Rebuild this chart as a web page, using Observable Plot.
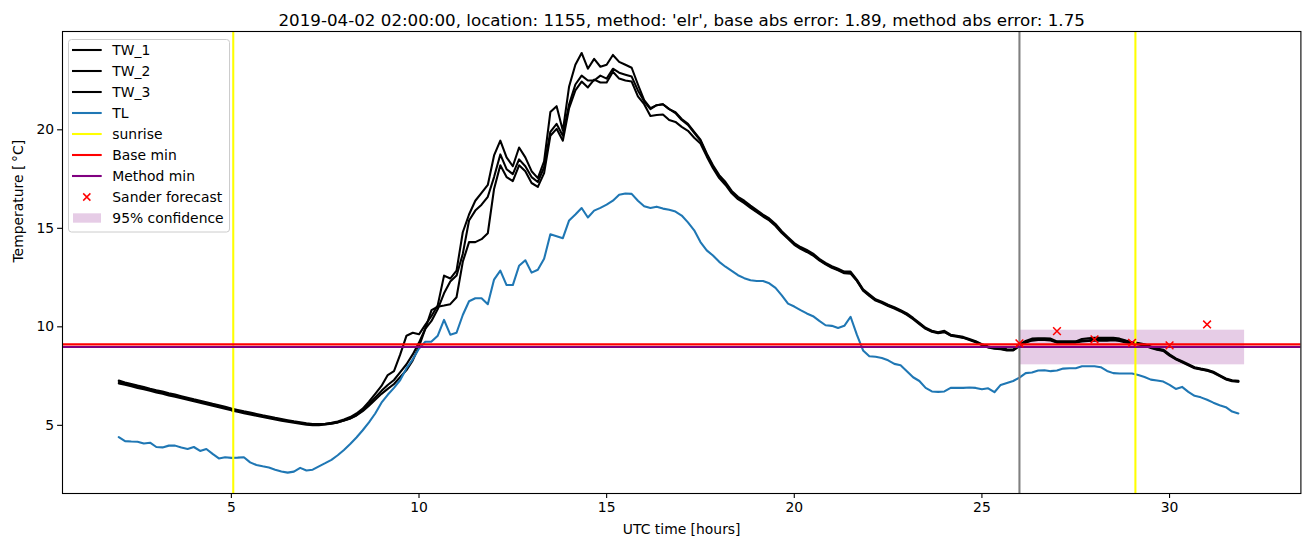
<!DOCTYPE html>
<html><head><meta charset="utf-8">
<script src="https://cdn.jsdelivr.net/npm/d3@7"></script>
<script src="https://cdn.jsdelivr.net/npm/@observablehq/plot@0.6"></script>
<style>body{margin:0;background:#fff;} #chart{width:1310px;height:547px;}</style>
</head><body><div id="chart"></div>
<script>
const title = "2019-04-02 02:00:00, location: 1155, method: 'elr', base abs error: 1.89, method abs error: 1.75";
// 10-minute time grid, 02:00 .. 31:50 UTC hours
const hours = d3.range(180).map(k => 2 + k / 6);

const TW_1 = [
7.27,7.18,7.10,7.02,6.95,6.86,
6.78,6.72,6.63,6.56,6.48,6.40,
6.32,6.25,6.17,6.09,6.02,5.94,
5.85,5.78,5.71,5.65,5.58,5.51,
5.45,5.38,5.32,5.26,5.20,5.15,
5.10,5.07,5.06,5.08,5.13,5.20,
5.30,5.42,5.60,5.85,6.20,6.60,
7.00,7.55,7.75,8.60,9.55,9.70,
9.62,10.10,10.55,11.10,12.60,12.45,
12.85,14.80,15.70,16.40,16.80,17.20,
18.70,19.45,18.60,18.15,19.10,18.60,
17.90,17.55,18.40,20.90,21.20,19.95,
22.20,23.30,23.90,23.10,23.60,23.20,
23.30,23.80,23.45,23.30,23.15,22.30,
21.50,21.10,21.25,21.30,21.05,20.90,
20.55,20.30,19.90,19.50,18.80,18.20,
17.70,17.35,16.90,16.60,16.40,16.15,
15.92,15.70,15.50,15.22,14.85,14.55,
14.25,14.05,13.90,13.72,13.45,13.25,
13.08,12.95,12.80,12.80,12.40,11.90,
11.65,11.40,11.28,11.12,11.00,10.85,
10.68,10.45,10.20,9.95,9.80,9.72,
9.80,9.60,9.55,9.49,9.38,9.27,
9.12,9.00,8.94,8.92,8.86,8.85,
9.10,9.28,9.40,9.42,9.42,9.40,
9.26,9.26,9.26,9.26,9.38,9.42,
9.44,9.44,9.44,9.44,9.40,9.30,
9.22,9.18,9.12,9.00,8.90,8.84,
8.60,8.40,8.25,8.10,7.95,7.88,
7.82,7.72,7.55,7.38,7.29,7.26];

const TW_2 = [
7.20,7.12,7.04,6.96,6.89,6.81,
6.73,6.66,6.58,6.50,6.43,6.35,
6.27,6.20,6.12,6.04,5.97,5.89,
5.80,5.73,5.66,5.60,5.53,5.46,
5.40,5.34,5.28,5.22,5.17,5.12,
5.07,5.05,5.04,5.06,5.10,5.15,
5.25,5.35,5.52,5.78,6.08,6.42,
6.75,7.05,7.30,7.70,8.10,8.60,
9.20,9.90,10.30,10.90,11.70,12.30,
12.60,13.70,15.40,15.90,16.20,16.60,
17.60,18.75,18.00,17.75,18.50,18.15,
17.60,17.35,18.10,19.90,20.30,19.70,
21.30,22.30,22.75,22.50,22.50,22.75,
22.60,23.10,22.90,22.80,22.70,22.00,
21.45,21.05,21.25,21.30,21.05,20.85,
20.50,20.25,19.85,19.45,18.75,18.15,
17.62,17.27,16.84,16.53,16.33,16.08,
15.86,15.63,15.44,15.16,14.80,14.50,
14.20,14.00,13.84,13.66,13.40,13.20,
13.03,12.90,12.75,12.74,12.36,11.86,
11.60,11.36,11.24,11.08,10.96,10.81,
10.64,10.42,10.17,9.92,9.77,9.70,
9.76,9.57,9.52,9.46,9.35,9.24,
9.09,8.97,8.91,8.89,8.83,8.82,
9.05,9.22,9.33,9.36,9.36,9.34,
9.22,9.22,9.22,9.24,9.30,9.32,
9.34,9.34,9.34,9.36,9.32,9.24,
9.18,9.14,9.08,8.96,8.86,8.80,
8.56,8.37,8.22,8.07,7.92,7.85,
7.79,7.69,7.52,7.35,7.26,7.23];

const TW_3 = [
7.13,7.06,6.98,6.90,6.83,6.75,
6.67,6.60,6.52,6.45,6.37,6.30,
6.22,6.15,6.07,5.99,5.92,5.84,
5.76,5.69,5.62,5.55,5.49,5.42,
5.36,5.30,5.24,5.18,5.13,5.08,
5.03,5.01,5.01,5.04,5.08,5.14,
5.24,5.35,5.50,5.72,6.00,6.30,
6.60,6.85,7.10,7.45,7.80,8.30,
9.00,9.90,10.85,11.02,11.08,11.15,
11.50,13.30,14.30,14.30,14.45,14.75,
17.00,18.20,17.60,17.40,18.20,17.90,
17.30,17.10,17.80,19.70,20.05,19.45,
21.10,22.00,22.45,22.15,22.55,22.40,
22.40,22.95,22.60,22.50,22.45,21.70,
21.30,20.70,20.75,20.78,20.50,20.40,
20.15,19.95,19.60,19.30,18.65,18.05,
17.55,17.20,16.78,16.48,16.28,16.04,
15.82,15.60,15.40,15.12,14.76,14.47,
14.16,13.96,13.80,13.62,13.37,13.17,
13.00,12.87,12.72,12.70,12.33,11.83,
11.57,11.33,11.21,11.05,10.93,10.78,
10.61,10.39,10.14,9.90,9.75,9.68,
9.73,9.55,9.50,9.44,9.33,9.22,
9.07,8.95,8.89,8.86,8.80,8.80,
9.02,9.20,9.30,9.33,9.33,9.31,
9.20,9.20,9.20,9.20,9.26,9.28,
9.30,9.30,9.30,9.32,9.28,9.20,
9.15,9.11,9.05,8.93,8.84,8.78,
8.54,8.35,8.20,8.05,7.90,7.83,
7.77,7.67,7.50,7.33,7.24,7.21];

const TL = [
4.40,4.20,4.18,4.17,4.08,4.12,
3.90,3.88,3.97,3.97,3.87,3.80,
3.90,3.70,3.80,3.55,3.32,3.38,
3.35,3.36,3.38,3.12,2.99,2.92,
2.86,2.75,2.66,2.60,2.65,2.84,
2.71,2.75,2.92,3.08,3.25,3.48,
3.75,4.05,4.38,4.75,5.15,5.60,
6.15,6.55,6.90,7.30,7.90,8.35,
8.90,9.24,9.25,9.55,10.35,9.60,
9.70,10.60,11.30,11.45,11.45,11.15,
12.40,12.85,12.12,12.12,13.10,13.38,
12.75,12.90,13.45,14.70,14.60,14.50,
15.40,15.70,16.03,15.55,15.90,16.04,
16.20,16.40,16.70,16.77,16.75,16.40,
16.12,16.03,16.10,16.00,15.94,15.85,
15.65,15.30,14.90,14.30,13.88,13.62,
13.30,13.05,12.84,12.62,12.47,12.36,
12.33,12.33,12.21,11.98,11.60,11.18,
11.03,10.85,10.68,10.54,10.30,10.08,
10.05,9.94,10.05,10.51,9.60,8.80,
8.51,8.48,8.42,8.30,8.12,8.05,
7.75,7.44,7.25,6.90,6.72,6.70,
6.72,6.90,6.90,6.90,6.92,6.90,
6.83,6.88,6.68,7.05,7.15,7.25,
7.42,7.65,7.68,7.78,7.80,7.75,
7.78,7.88,7.90,7.90,8.00,8.00,
8.00,7.95,7.76,7.65,7.63,7.63,
7.63,7.55,7.45,7.32,7.28,7.22,
7.05,6.85,6.95,6.70,6.50,6.42,
6.30,6.15,6.02,5.92,5.70,5.60];

const sunriseHours = [5.05, 29.09];
const forecastStart = [26];
const baseMin = [9.11];
const methodMin = [8.98];
const forecastHours = [26, 27, 28, 29, 30, 31];
const forecastValues = [9.16, 9.78, 9.36, 9.19, 9.06, 10.12];
const confStart = 26, confEnd = 32, confLow = 8.07, confHigh = 9.83;
const xTicks = [5, 10, 15, 20, 25, 30];
const yTicks = [5, 10, 15, 20];
const xLabel = "UTC time [hours]";
const yLabel = "Temperature [\u2009°C]";
const legendLabels = ["TW_1", "TW_2", "TW_3", "TL", "sunrise", "Base min", "Method min", "Sander forecast", "95% confidence"];

const LW = 2.08;
const pairs = vals => vals.map((v, i) => ({t: hours[i], v}));

const chart = Plot.plot({
  width: 1310, height: 547,
  marginLeft: 62, marginRight: 9.6, marginTop: 31, marginBottom: 54,
  style: {fontFamily: "DejaVu Sans, sans-serif", fontSize: "13.9px", background: "white", color: "black"},
  x: {domain: [0.5, 33.5]},
  y: {domain: [1.54, 24.99]},
  marks: [
    Plot.rect([{s: confStart, e: confEnd, lo: confLow, hi: confHigh}], {x1: "s", x2: "e", y1: "lo", y2: "hi", fill: "purple", fillOpacity: 0.2}),
    ...[TW_1, TW_2, TW_3].map(s => Plot.line(pairs(s), {x: "t", y: "v", stroke: "black", strokeWidth: LW})),
    Plot.line(pairs(TL), {x: "t", y: "v", stroke: "#1f77b4", strokeWidth: LW}),
    Plot.ruleX(sunriseHours, {stroke: "yellow", strokeWidth: LW}),
    Plot.ruleX(forecastStart, {stroke: "gray", strokeWidth: LW}),
    Plot.ruleY(baseMin, {stroke: "red", strokeWidth: LW}),
    Plot.ruleY(methodMin, {stroke: "purple", strokeWidth: LW}),
    Plot.dot(forecastValues.map((v, i) => ({t: forecastHours[i], v})), {x: "t", y: "v", symbol: "times", stroke: "red", r: 3.6, strokeWidth: 1.5}),
    Plot.frame({stroke: "black", strokeWidth: 1.1}),
    Plot.axisX({ticks: xTicks, tickSize: 4.9, tickPadding: 3.5, label: null, fontSize: 13.9, strokeWidth: 1.1}),
    Plot.axisY({ticks: yTicks, tickSize: 4.9, tickPadding: 3.5, label: null, fontSize: 13.9, strokeWidth: 1.1}),
    Plot.text([title], {frameAnchor: "top", dy: -17, fontSize: 16.7}),
    Plot.text([xLabel], {frameAnchor: "bottom", dy: 40, fontSize: 13.9}),
    Plot.text([yLabel], {frameAnchor: "left", dx: -44, rotate: -90, fontSize: 13.9})
  ]
});
document.getElementById("chart").appendChild(chart);

// legend (upper left, matplotlib style)
const svg = d3.select(chart);
const lg = svg.append("g").attr("font-family", "DejaVu Sans, sans-serif").attr("font-size", "13.9px").attr("text-anchor", "start");
lg.append("rect").attr("x", 68.5).attr("y", 39.5).attr("width", 161).attr("height", 192.5).attr("rx", 3)
  .attr("fill", "white").attr("fill-opacity", 0.8).attr("stroke", "#cccccc").attr("stroke-width", 1);
const kinds = [["line","black"],["line","black"],["line","black"],["line","#1f77b4"],["line","yellow"],["line","red"],["line","purple"],["x","red"],["patch","purple"]];
legendLabels.forEach((lab, i) => {
  const y = 50 + i * 21;
  const [k, c] = kinds[i];
  if (k === "line") {
    lg.append("line").attr("x1", 72).attr("x2", 101.7).attr("y1", y).attr("y2", y).attr("stroke", c).attr("stroke-width", LW);
  } else if (k === "x") {
    const cx = 86.8, h = 3.6;
    lg.append("path").attr("d", `M${cx-h},${y-h}L${cx+h},${y+h}M${cx-h},${y+h}L${cx+h},${y-h}`).attr("stroke", c).attr("stroke-width", 1.5);
  } else {
    lg.append("rect").attr("x", 73).attr("y", y - 4.7).attr("width", 28).attr("height", 9.4).attr("fill", c).attr("fill-opacity", 0.2);
  }
  lg.append("text").attr("x", 112.3).attr("y", y).attr("dy", "0.35em").attr("text-anchor", "start").text(lab);
});
</script>
</body></html>
